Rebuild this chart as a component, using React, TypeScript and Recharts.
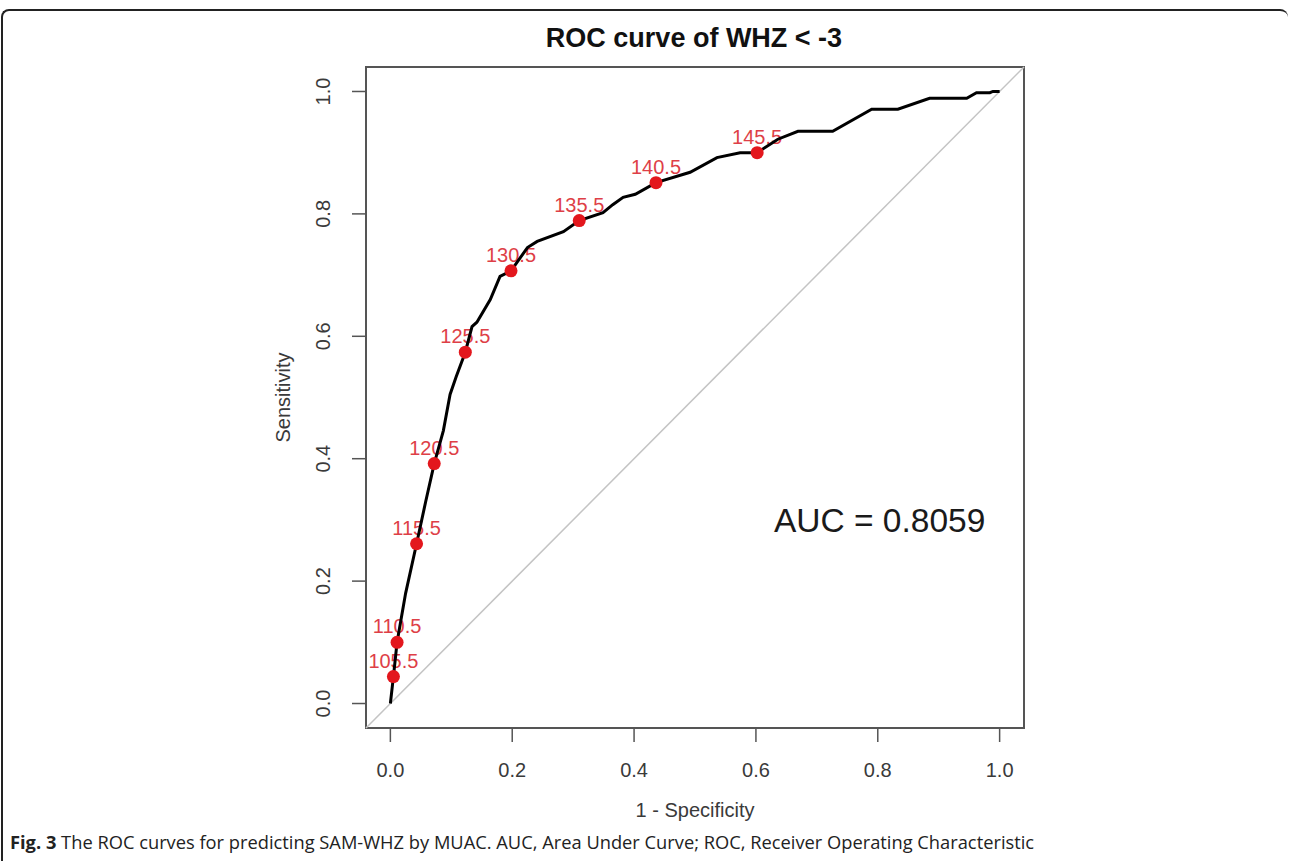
import React from 'react';
import {
  ScatterChart,
  Scatter,
  XAxis,
  YAxis,
  ReferenceLine,
  ReferenceArea,
  ReferenceDot,
  Label,
} from 'recharts';

// ROC curve (1 - specificity, sensitivity)
const curveFpr = [0, 0.005, 0.011, 0.025, 0.043, 0.058, 0.072, 0.087, 0.098, 0.108, 0.123, 0.134, 0.142, 0.164, 0.18, 0.198, 0.225, 0.241, 0.284, 0.31, 0.349, 0.365, 0.382, 0.402, 0.436, 0.492, 0.536, 0.574, 0.602, 0.636, 0.669, 0.726, 0.79, 0.833, 0.885, 0.946, 0.962, 0.984, 0.989, 1.0];
const curveTpr = [0, 0.044, 0.1, 0.18, 0.261, 0.33, 0.392, 0.446, 0.505, 0.534, 0.574, 0.616, 0.623, 0.66, 0.698, 0.707, 0.745, 0.755, 0.771, 0.789, 0.802, 0.815, 0.827, 0.832, 0.851, 0.868, 0.892, 0.9, 0.9, 0.922, 0.935, 0.935, 0.971, 0.971, 0.989, 0.989, 0.998, 0.998, 1.0, 1.0];

// MUAC cut-off points marked in red
const cutLabels = ['105.5', '110.5', '115.5', '120.5', '125.5', '130.5', '135.5', '140.5', '145.5'];
const cutFpr = [0.005, 0.011, 0.043, 0.072, 0.123, 0.198, 0.31, 0.436, 0.602];
const cutTpr = [0.044, 0.1, 0.261, 0.392, 0.574, 0.707, 0.789, 0.851, 0.9];

const axisTicks = [0, 0.2, 0.4, 0.6, 0.8, 1.0];
const aucText = 'AUC = 0.8059';

const curve = curveFpr.map((x, i) => ({ x, y: curveTpr[i] }));
const cutoffs = cutFpr.map((x, i) => ({ x, y: cutTpr[i], label: cutLabels[i] }));

const FONT = '"Liberation Sans", Arial, Helvetica, sans-serif';

const XTick = ({ x, y, payload }: any) => (
  <text x={x} y={y + 26} textAnchor="middle" dominantBaseline="central" fontFamily={FONT} fontSize={20} fill="#3a3a3a">
    {Number(payload.value).toFixed(1)}
  </text>
);

const YTick = ({ x, y, payload }: any) => (
  <text
    x={x - 27}
    y={y}
    textAnchor="middle"
    dominantBaseline="central"
    fontFamily={FONT}
    fontSize={20}
    fill="#3a3a3a"
    transform={`rotate(-90, ${x - 27}, ${y})`}
  >
    {Number(payload.value).toFixed(1)}
  </text>
);

const Empty = () => <g />;

const CutText = (props: any) => (
  <text x={props.cx} y={props.cy - 9} textAnchor="middle" fontFamily={FONT} fontSize={20} fill="#de3f47">
    {props.payload.label}
  </text>
);

const CutDot = (props: any) => <circle cx={props.cx} cy={props.cy} r={6.5} fill="#e3171d" />;

export default function App() {
  return (
    <div style={{ position: 'absolute', left: 0, top: 0, width: 1290, height: 868, background: '#fff' }}>
      <div
        style={{
          position: 'absolute',
          left: 1,
          top: 9,
          width: 1287,
          height: 852,
          borderTop: '2px solid #222',
          borderLeft: '2px solid #222',
          borderTopLeftRadius: 8,
          borderTopRightRadius: 8,
          boxSizing: 'border-box',
        }}
      />
      <div
        style={{
          position: 'absolute',
          left: 394,
          width: 600,
          top: 23,
          textAlign: 'center',
          fontFamily: FONT,
          fontWeight: 'bold',
          fontSize: 27,
          lineHeight: '30px',
          color: '#111',
        }}
      >
        ROC curve of WHZ &lt; -3
      </div>
      <div style={{ position: 'absolute', left: 0, top: 0 }}>
        <ScatterChart width={1290} height={868} margin={{ top: 67, right: 266, bottom: 50, left: 246 }}>
          <XAxis
            type="number"
            dataKey="x"
            domain={[-0.04, 1.04]}
            allowDataOverflow
            ticks={axisTicks}
            tick={<XTick />}
            tickSize={14}
            axisLine={false}
            tickLine={{ stroke: '#555', strokeWidth: 1.5 }}
            height={90}
          >
            <Label
              content={({ viewBox }: any) => (
                <text
                  x={viewBox.x + viewBox.width / 2}
                  y={viewBox.y + 82}
                  textAnchor="middle"
                  dominantBaseline="central"
                  fontFamily={FONT}
                  fontSize={20}
                  fill="#3a3a3a"
                >
                  1 - Specificity
                </text>
              )}
            />
          </XAxis>
          <YAxis
            type="number"
            dataKey="y"
            domain={[-0.04, 1.04]}
            allowDataOverflow
            ticks={axisTicks}
            tick={<YTick />}
            tickSize={14}
            axisLine={false}
            tickLine={{ stroke: '#555', strokeWidth: 1.5 }}
            width={120}
          >
            <Label
              content={({ viewBox }: any) => {
                const cx = viewBox.x + 37;
                const cy = viewBox.y + viewBox.height / 2;
                return (
                  <text
                    x={cx}
                    y={cy}
                    textAnchor="middle"
                    dominantBaseline="central"
                    fontFamily={FONT}
                    fontSize={20}
                    fill="#3a3a3a"
                    transform={`rotate(-90, ${cx}, ${cy})`}
                  >
                    Sensitivity
                  </text>
                );
              }}
            />
          </YAxis>
          <ReferenceLine
            segment={[{ x: -0.04, y: -0.04 }, { x: 1.04, y: 1.04 }]}
            stroke="#c4c4c4"
            strokeWidth={1.5}
          />
          <Scatter data={cutoffs} shape={CutText} isAnimationActive={false} />
          <Scatter
            data={curve}
            shape={Empty}
            line={{ stroke: '#000', strokeWidth: 3 }}
            lineJointType="linear"
            isAnimationActive={false}
          />
          <Scatter data={cutoffs} shape={CutDot} isAnimationActive={false} />
          <ReferenceDot
            x={0.803}
            y={0.3}
            r={0}
            stroke="none"
            label={{ value: aucText, position: 'center', fontSize: 33.5, fill: '#1a1a1a', fontFamily: FONT }}
          />
          <ReferenceArea x1={-0.04} x2={1.04} y1={-0.04} y2={1.04} fill="none" stroke="#555" strokeWidth={2} />
        </ScatterChart>
      </div>
      <div
        style={{
          position: 'absolute',
          left: 10,
          top: 829,
          fontFamily: '"Open Sans", "Noto Sans", sans-serif',
          fontSize: 18.3,
          lineHeight: '25px',
          color: '#222',
          whiteSpace: 'nowrap',
        }}
      >
        <b>Fig. 3</b> The ROC curves for predicting SAM-WHZ by MUAC. AUC, Area Under Curve; ROC, Receiver Operating Characteristic
      </div>
    </div>
  );
}
